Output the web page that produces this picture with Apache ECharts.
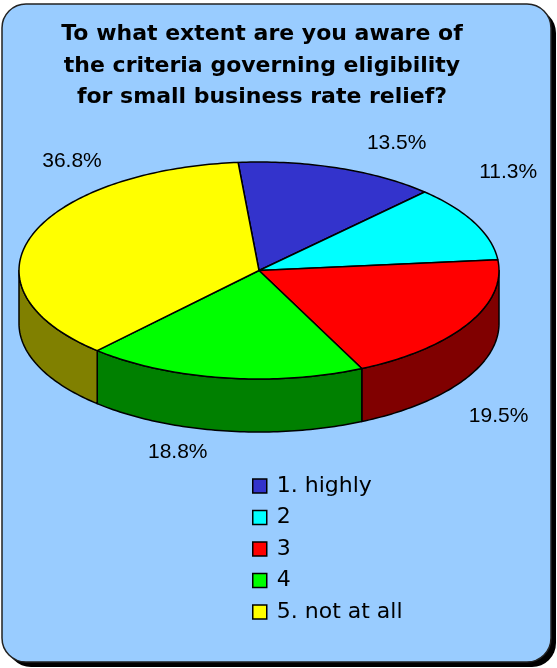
<!DOCTYPE html>
<html>
<head>
<meta charset="utf-8">
<title>Small business rate relief awareness</title>
<script src="https://cdn.jsdelivr.net/npm/echarts@6/dist/echarts.min.js"></script>
<style>
  html, body { margin: 0; padding: 0; background: #ffffff; }
  #chart { width: 557px; height: 668px; }
</style>
</head>
<body>
<div id="chart"></div>
<script>
// Survey answers and their shares (percent)
const categories = ['1. highly', '2', '3', '4', '5. not at all'];
const shares = [13.5, 11.3, 19.5, 18.8, 36.8];
const topColors = ['#3333CC', '#00FFFF', '#FF0000', '#00FF00', '#FFFF00'];
const sideColors = ['#1A1A66', '#008080', '#800000', '#008000', '#808000'];
const titleLines = [
  'To what extent are you aware of',
  'the criteria governing eligibility',
  'for small business rate relief?'
];

// Geometry of the tilted pie (pixels) and where slices start (degrees, counter-clockwise from 3 o'clock)
const pie = { cx: 259, cy: 270.5, rx: 240, ry: 108.5, depth: 53, startDeg: 95 };
// Label placement: pushed out from the rim at the slice's middle angle, then nudged
const labelRing = 25;
const labelNudge = [[50, -1], [11, -40], [9, 27], [-42, -3], [64, -67]];

const total = shares.reduce((a, b) => a + b, 0);
const rad = d => d * Math.PI / 180;

function rim(deg, dy) {
  return [pie.cx + pie.rx * Math.cos(rad(deg)), pie.cy - pie.ry * Math.sin(rad(deg)) + (dy || 0)];
}
function arc(from, to, dy) {
  const pts = [];
  const n = Math.max(2, Math.ceil(Math.abs(to - from)));
  for (let k = 0; k <= n; k++) pts.push(rim(from + (to - from) * k / n, dy));
  return pts;
}
function sliceRange(i) {
  const before = shares.slice(0, i).reduce((a, b) => a + b, 0);
  const a0 = pie.startDeg - before / total * 360;
  const a1 = a0 - shares[i] / total * 360;
  return [a0, a1];
}

function makeRenderer(i) {
  return function () {
    const [a0, a1] = sliceRange(i);
    const children = [];
    // Front wall: the part of the slice on the near half of the rim
    [-360, 0, 360].forEach(k => {
      const lo = Math.max(a1, -180 + k), hi = Math.min(a0, k);
      if (hi > lo) {
        const top = arc(lo, hi, 0);
        const bottom = arc(hi, lo, pie.depth);
        children.push({
          type: 'polygon', z2: 1,
          shape: { points: top.concat(bottom) },
          style: { fill: sideColors[i], stroke: '#000', lineWidth: 1.5, lineJoin: 'round' }
        });
      }
    });
    // Top face of the slice
    children.push({
      type: 'polygon', z2: 10,
      shape: { points: [[pie.cx, pie.cy]].concat(arc(a0, a1, 0)) },
      style: { fill: topColors[i], stroke: '#000', lineWidth: 1.5, lineJoin: 'round' }
    });
    // Percentage label
    const mid = (a0 + a1) / 2;
    const s = Math.sin(rad(mid));
    const lx = pie.cx + (pie.rx + labelRing) * Math.cos(rad(mid)) + labelNudge[i][0];
    const ly = pie.cy - (pie.ry + labelRing) * s + (s < 0 ? pie.depth : 0) + labelNudge[i][1];
    children.push({
      type: 'text', z2: 20, x: lx, y: ly,
      style: {
        text: shares[i].toFixed(1) + '%',
        fill: '#000',
        fontSize: 21,
        fontFamily: '"Liberation Sans", Arial, sans-serif',
        align: 'center', verticalAlign: 'middle'
      }
    });
    return { type: 'group', children };
  };
}

const chart = echarts.init(document.getElementById('chart'), null, { renderer: 'canvas' });

chart.setOption({
  animation: false,
  graphic: [
    { type: 'rect', z: -20, silent: true,
      shape: { x: 7, y: 9, width: 549, height: 658, r: 24 },
      style: { fill: '#000' } },
    { type: 'rect', z: -10, silent: true,
      shape: { x: 2, y: 4, width: 549, height: 658, r: 24 },
      style: { fill: '#99CCFF', stroke: '#222', lineWidth: 1.5 } }
  ],
  title: {
    text: titleLines.join('\n'),
    left: 257, top: 14, textAlign: 'center',
    textStyle: {
      fontFamily: '"DejaVu Sans", Verdana, sans-serif',
      fontWeight: 'bold', fontSize: 22, lineHeight: 31.5, color: '#000'
    }
  },
  legend: {
    orient: 'vertical', left: 252, top: 475, padding: 0,
    icon: 'rect', itemWidth: 14, itemHeight: 14, itemGap: 9.5,
    selectedMode: false,
    itemStyle: { borderColor: '#000', borderWidth: 1.5 },
    textStyle: {
      fontFamily: '"DejaVu Sans", Verdana, sans-serif',
      fontSize: 22, lineHeight: 22, color: '#000', padding: [0, 0, 0, 5]
    },
    data: categories
  },
  series: categories.map((name, i) => ({
    type: 'custom', name,
    coordinateSystem: 'none',
    silent: true,
    itemStyle: { color: topColors[i] },
    data: [shares[i]],
    renderItem: makeRenderer(i)
  }))
});
</script>
</body>
</html>
